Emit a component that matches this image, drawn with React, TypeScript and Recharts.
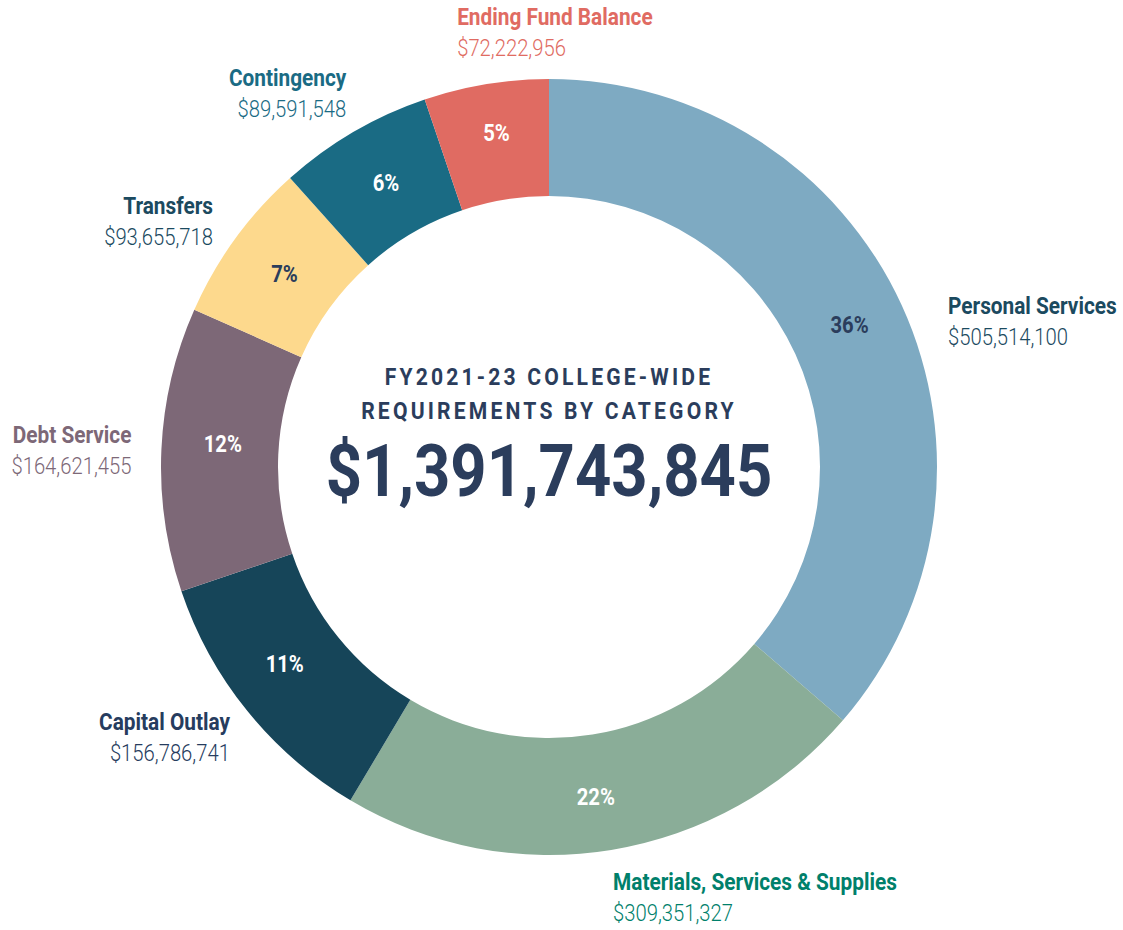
import React from 'react';
import { PieChart, Pie, Cell } from 'recharts';

const categories = [
  'Personal Services',
  'Materials, Services & Supplies',
  'Capital Outlay',
  'Debt Service',
  'Transfers',
  'Contingency',
  'Ending Fund Balance',
];
const amounts = [505514100, 309351327, 156786741, 164621455, 93655718, 89591548, 72222956];
const sliceColors = ['#7eaac2', '#8aad98', '#164559', '#7d6877', '#fdd98d', '#1a6b84', '#e06b62'];
const labelColors = ['#1b4a5f', '#00806b', '#263c5e', '#7d6877', '#1b4a5f', '#1a6b84', '#e06b62'];
const pctColors = ['#2b3d5c', '#ffffff', '#ffffff', '#ffffff', '#2b3d5c', '#ffffff', '#ffffff'];
const titleLines = ['FY2021-23 COLLEGE-WIDE', 'REQUIREMENTS BY CATEGORY'];

const total = amounts.reduce((a, b) => a + b, 0);
const data = categories.map((name, i) => ({ name, value: amounts[i] }));

const FONT = "Roboto, 'Open Sans', sans-serif";
const RAD = Math.PI / 180;
const SQUEEZE = 0.88; // stand-in for the condensed face of the original
const NAME_SQUEEZE = 0.905;

// small nudges, relative to the radial anchors
const pctNudge = [
  [1, -5], [-6, 5], [-8, -10], [3, -8], [2, 1], [3, 1], [1, -9],
];
const labelNudge: { dx: number; dy: number; anchor: 'start' | 'end' }[] = [
  { dx: 19, dy: 27, anchor: 'start' },
  { dx: -3, dy: 16, anchor: 'start' },
  { dx: 6, dy: 6, anchor: 'end' },
  { dx: 0, dy: 1, anchor: 'end' },
  { dx: 2, dy: -1, anchor: 'end' },
  { dx: 8, dy: -14, anchor: 'end' },
  { dx: -24, dy: -24, anchor: 'start' },
];

const fmt = (v: number) => '$' + v.toLocaleString('en-US');

const renderLabel = (props: any) => {
  const { cx, cy, midAngle, innerRadius, outerRadius, index, value } = props;
  const mid = (innerRadius + outerRadius) / 2;
  const px = cx + mid * Math.cos(-midAngle * RAD) + pctNudge[index][0];
  const py = cy + mid * Math.sin(-midAngle * RAD) + pctNudge[index][1];
  const r2 = outerRadius + 30;
  const n = labelNudge[index];
  const ox = cx + r2 * Math.cos(-midAngle * RAD) + n.dx;
  const oy = cy + r2 * Math.sin(-midAngle * RAD) + n.dy;
  return (
    <g>
      <g transform={`translate(${px},${py}) scale(${SQUEEZE},1)`}>
        <text x={0} y={8} textAnchor="middle" fill={pctColors[index]}
          fontFamily={FONT} fontWeight={700} fontSize={23}>
          {Math.round((value / total) * 100)}%
        </text>
      </g>
      <g transform={`translate(${ox},${oy}) scale(${NAME_SQUEEZE},1)`}>
        <text x={0} y={-6} textAnchor={n.anchor} fill={labelColors[index]}
          fontFamily={FONT} fontWeight={700} fontSize={23}>
          {categories[index]}
        </text>
      </g>
      <g transform={`translate(${ox},${oy}) scale(${SQUEEZE},1)`}>
        <text x={0} y={25} textAnchor={n.anchor} fill={labelColors[index]}
          fontFamily={FONT} fontWeight={300} fontSize={23}>
          {fmt(amounts[index])}
        </text>
      </g>
    </g>
  );
};

export default function App() {
  return (
    <div style={{ position: 'absolute', left: 0, top: 0, width: 1123, height: 930, background: '#fff' }}>
      <PieChart width={1123} height={930} margin={{ top: 0, right: 0, bottom: 0, left: 0 }}>
        <Pie
          data={data}
          dataKey="value"
          nameKey="name"
          cx={549}
          cy={467}
          innerRadius={271}
          outerRadius={388}
          startAngle={90}
          endAngle={-270}
          stroke="none"
          label={renderLabel}
          labelLine={false}
          isAnimationActive={false}
        >
          {data.map((d, i) => (
            <Cell key={d.name} fill={sliceColors[i]} />
          ))}
        </Pie>
      </PieChart>
      <div style={{ position: 'absolute', left: 249, top: 360, width: 600, textAlign: 'center', color: '#2b3d5c', fontFamily: FONT, transform: `scaleX(${SQUEEZE})` }}>
        {titleLines.map((t) => (
          <div key={t} style={{ fontSize: 24, fontWeight: 700, letterSpacing: 3.6, lineHeight: '34px', height: 34 }}>{t}</div>
        ))}
        <div style={{ fontSize: 72, fontWeight: 700, lineHeight: '80px', marginTop: 4, letterSpacing: 0 }}>{fmt(total)}</div>
      </div>
    </div>
  );
}
